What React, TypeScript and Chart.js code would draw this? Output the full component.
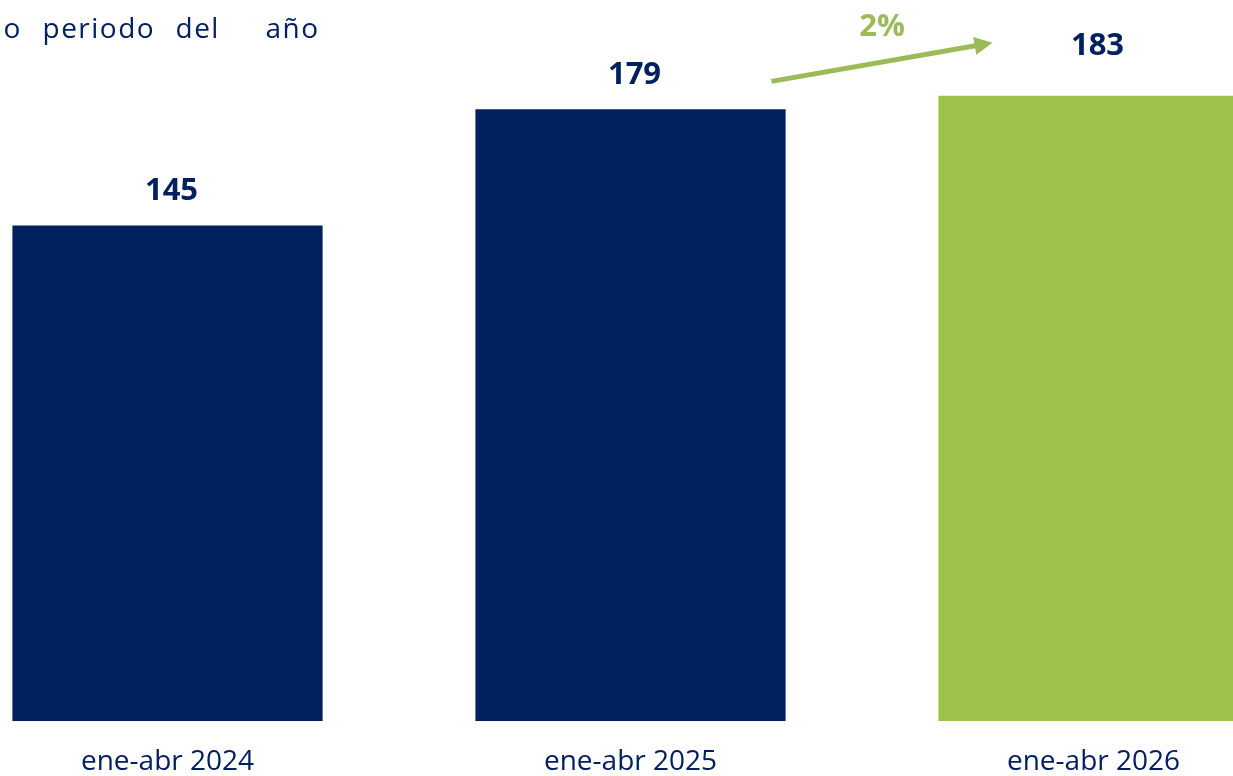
import React, { useEffect, useRef } from "react";
import { Chart, registerables } from "chart.js";

Chart.register(...registerables);

const categories = ["ene-abr 2024", "ene-abr 2025", "ene-abr 2026"];
const values = [145, 179, 183];
const barColors = ["#002060", "#002060", "#9DC34B"];
const labelLift = [34, 34, 50];
const changeLabel = "2%";
const titleWords = ["o", "periodo", "del", "año"];
const titleWordX = [3, 42, 175, 265];

const NAVY = "#002060";
const GREEN = "#9BBB59";
const FONT = "'Open Sans', 'Noto Sans', sans-serif";

const overlayPlugin = {
  id: "overlay",
  afterDatasetsDraw(chart: any) {
    const ctx = chart.ctx;
    const meta = chart.getDatasetMeta(0);
    const canvasLeft = -64.5;
    ctx.save();
    // value labels
    ctx.font = `bold 31px ${FONT}`;
    ctx.fillStyle = NAVY;
    ctx.textAlign = "center";
    ctx.textBaseline = "middle";
    meta.data.forEach((bar: any, i: number) => {
      ctx.fillText(String(values[i]), bar.x + 4, bar.y - labelLift[i]);
    });
    // growth arrow between bar 2 and bar 3
    const b2 = meta.data[1];
    const b3 = meta.data[2];
    const sx = b2.x + 141;
    const sy = b2.y - 28;
    const tx = b3.x - 101;
    const ty = b3.y - 53;
    const ang = Math.atan2(ty - sy, tx - sx);
    const headLen = 18;
    const headHalf = 9;
    const bx = tx - headLen * Math.cos(ang);
    const by = ty - headLen * Math.sin(ang);
    ctx.strokeStyle = GREEN;
    ctx.lineWidth = 5;
    ctx.beginPath();
    ctx.moveTo(sx, sy);
    ctx.lineTo(bx + 2 * Math.cos(ang), by + 2 * Math.sin(ang));
    ctx.stroke();
    ctx.fillStyle = GREEN;
    ctx.beginPath();
    ctx.moveTo(tx, ty);
    ctx.lineTo(bx - headHalf * Math.sin(ang), by + headHalf * Math.cos(ang));
    ctx.lineTo(bx + headHalf * Math.sin(ang), by - headHalf * Math.cos(ang));
    ctx.closePath();
    ctx.fill();
    ctx.font = `bold 31px ${FONT}`;
    ctx.fillText(changeLabel, (sx + tx) / 2, 27);
    // partial title
    ctx.font = `28px ${FONT}`;
    ctx.fillStyle = NAVY;
    ctx.textAlign = "left";
    ctx.textBaseline = "alphabetic";
    (ctx as any).letterSpacing = "1.5px";
    titleWords.forEach((w, i) => {
      ctx.fillText(w, titleWordX[i] - canvasLeft, 38);
    });
    ctx.restore();
  },
};

export default function App() {
  const ref = useRef<HTMLCanvasElement | null>(null);
  useEffect(() => {
    if (!ref.current) return;
    const chart = new Chart(ref.current, {
      type: "bar",
      data: {
        labels: categories,
        datasets: [
          {
            data: values,
            backgroundColor: barColors,
            borderWidth: 0,
            barPercentage: 0.67,
            categoryPercentage: 1,
          },
        ],
      },
      options: {
        responsive: false,
        animation: false,
        layout: { padding: 0 },
        plugins: { legend: { display: false }, tooltip: { enabled: false }, title: { display: false } },
        scales: {
          x: {
            grid: { display: false, drawTicks: false },
            border: { display: false },
            ticks: { color: NAVY, font: { family: FONT, size: 28 }, padding: 24 },
            afterFit: (s: any) => {
              s.height = 55;
            },
          },
          y: { display: false, min: 0, max: 211 },
        },
      },
      plugins: [overlayPlugin],
    });
    return () => chart.destroy();
  }, []);
  return (
    <div style={{ position: "fixed", left: 0, top: 0, width: 1233, height: 776, overflow: "hidden", background: "#fff" }}>
      <div style={{ position: "absolute", left: -64.5, top: 0, width: 1389, height: 776 }}>
        <canvas ref={ref} width={1389} height={776} style={{ width: 1389, height: 776, display: "block" }} />
      </div>
    </div>
  );
}
